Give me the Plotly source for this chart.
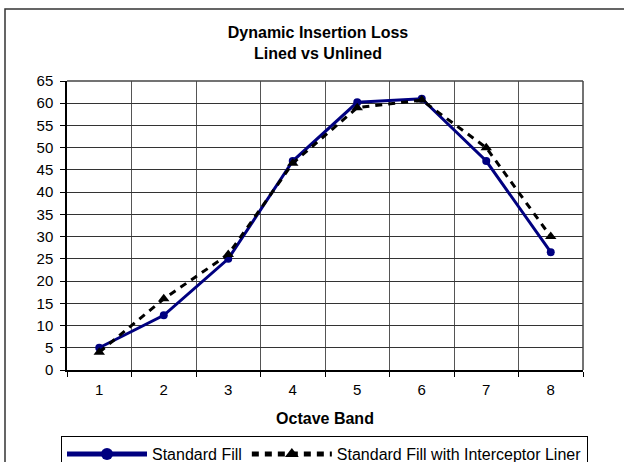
import plotly.graph_objects as go

bands = ["1", "2", "3", "4", "5", "6", "7", "8"]
standard_fill = [5, 12.3, 25, 47, 60.2, 61, 47, 26.5]
with_liner = [4, 16, 26, 46.5, 59, 60.7, 50, 30]
y_ticks = list(range(0, 66, 5))

W, H = 624, 462
L, R, T, B = 67, 583, 81, 370
pw, ph = R - L, B - T

def px_x(v):
    return (v - L) / pw

def px_y(v):
    return (B - v) / ph

fig = go.Figure()
fig.add_trace(go.Scatter(
    x=bands, y=standard_fill, name="Standard Fill", mode="lines+markers",
    line=dict(color="#000080", width=3),
    marker=dict(symbol="circle", size=8, color="#000080"),
))
fig.add_trace(go.Scatter(
    x=bands, y=with_liner, name="Standard Fill with Interceptor Liner", mode="lines+markers",
    line=dict(color="#000000", width=3, dash="7px,6px"),
    marker=dict(symbol="triangle-up", size=10, color="#000000"),
))

font = "Liberation Sans, Arial, sans-serif"
fig.update_layout(
    width=W, height=H,
    margin=dict(l=L, r=W - R, t=T, b=H - B, pad=0, autoexpand=False),
    paper_bgcolor="white", plot_bgcolor="white",
    font=dict(family=font, size=15, color="black"),
    title=dict(
        text="<b>Dynamic Insertion Loss</b><br><b>Lined vs Unlined</b>",
        x=318 / W, xanchor="center", xref="container",
        y=1 - 38 / H, yanchor="top", yref="container",
        font=dict(size=16, family=font, color="black"),
    ),
    xaxis=dict(
        type="category", tickson="boundaries", ticks="outside", ticklen=5,
        tickcolor="black", showgrid=True, gridcolor="#555555", gridwidth=1,
        showline=True, linecolor="black", linewidth=1.5, mirror=False,
        tickfont=dict(size=15), range=[-0.5, 7.5], automargin=False,
        ticklabelstandoff=5,
        title=dict(text="<b>Octave Band</b>", font=dict(size=16), standoff=16),
    ),
    yaxis=dict(
        range=[0, 65], tickvals=y_ticks, ticks="outside", ticklen=5,
        tickcolor="black", showgrid=True, gridcolor="#333333", gridwidth=1,
        showline=True, linecolor="black", linewidth=1.5, zeroline=False,
        tickfont=dict(size=15), automargin=False, ticklabelstandoff=4,
    ),
    legend=dict(
        orientation="h", x=px_x(61), y=px_y(436), xanchor="left", yanchor="top",
        bordercolor="black", borderwidth=1, font=dict(size=16),
        itemwidth=80, tracegroupgap=0, itemsizing="constant",
    ),
    showlegend=True,
)

# plot area top/right border
fig.add_shape(type="line", xref="paper", yref="paper", x0=0, x1=1, y0=1, y1=1,
              line=dict(color="#444444", width=1.5))
fig.add_shape(type="line", xref="paper", yref="paper", x0=1, x1=1, y0=0, y1=1,
              line=dict(color="#444444", width=1.5))
# outer chart border
fig.add_shape(type="rect", xref="paper", yref="paper",
              x0=px_x(5), x1=px_x(640), y0=px_y(480), y1=px_y(9),
              line=dict(color="#333333", width=1.5), layer="below")

fig.write_html("out.html", config={"displayModeBar": False},
               post_script="document.body.style.margin='0';document.body.style.overflow='hidden';")
